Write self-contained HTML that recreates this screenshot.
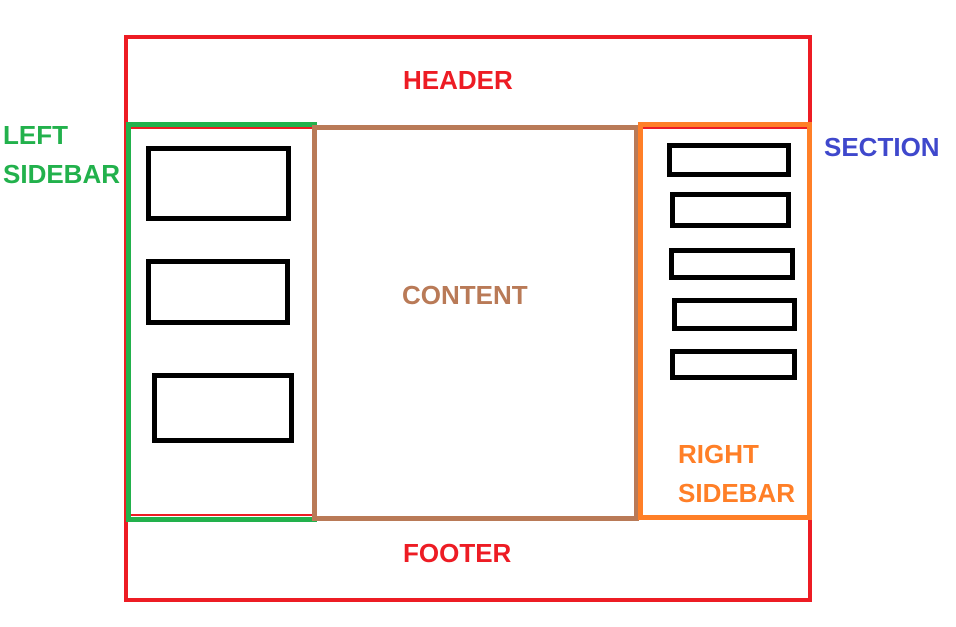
<!DOCTYPE html>
<html><head><meta charset="utf-8"><style>
body{margin:0;width:956px;height:627px;background:#fff;position:relative;overflow:hidden;font-family:"Liberation Sans",sans-serif;font-weight:bold}
.b{position:absolute;box-sizing:border-box}
.t{position:absolute;font-size:26px;line-height:1;white-space:nowrap;letter-spacing:0}
</style></head><body>
<div class="b" style="left:124px;top:35px;width:688px;height:567px;border:4px solid #ed1c24"></div>
<div class="b" style="left:126px;top:125px;width:684px;height:395px;border:2px solid #3f48cc"></div>
<div class="b" style="left:128px;top:127px;width:680px;height:2px;background:#ed1c24"></div>
<div class="b" style="left:128px;top:514px;width:186px;height:2px;background:#ed1c24"></div>
<div class="b" style="left:126px;top:122px;width:191px;height:400px;border:5px solid #22b14c"></div>
<div class="b" style="left:312px;top:125px;width:327px;height:396px;border:5px solid #b97a57"></div>
<div class="b" style="left:638px;top:122px;width:174px;height:398px;border:5px solid #ff7f27"></div>

<div class="b" style="left:146px;top:146px;width:145px;height:75px;border:5px solid #000"></div>
<div class="b" style="left:146px;top:259px;width:144px;height:66px;border:5px solid #000"></div>
<div class="b" style="left:152px;top:373px;width:142px;height:70px;border:5px solid #000"></div>

<div class="b" style="left:667px;top:143px;width:124px;height:34px;border:5px solid #000"></div>
<div class="b" style="left:670px;top:192px;width:121px;height:36px;border:5px solid #000"></div>
<div class="b" style="left:669px;top:248px;width:126px;height:32px;border:5px solid #000"></div>
<div class="b" style="left:672px;top:298px;width:125px;height:33px;border:5px solid #000"></div>
<div class="b" style="left:670px;top:349px;width:127px;height:31px;border:5px solid #000"></div>

<div class="t" style="left:403px;top:67px;color:#ed1c24">HEADER</div>
<div class="t" style="left:403px;top:540px;color:#ed1c24">FOOTER</div>
<div class="t" style="left:402px;top:282px;color:#b97a57">CONTENT</div>
<div class="t" style="left:824px;top:134px;color:#3f48cc">SECTION</div>
<div class="t" style="left:3px;top:116px;color:#22b14c;line-height:39px">LEFT<br>SIDEBAR</div>
<div class="t" style="left:678px;top:435px;color:#ff7f27;line-height:39px">RIGHT<br>SIDEBAR</div>
</body></html>
